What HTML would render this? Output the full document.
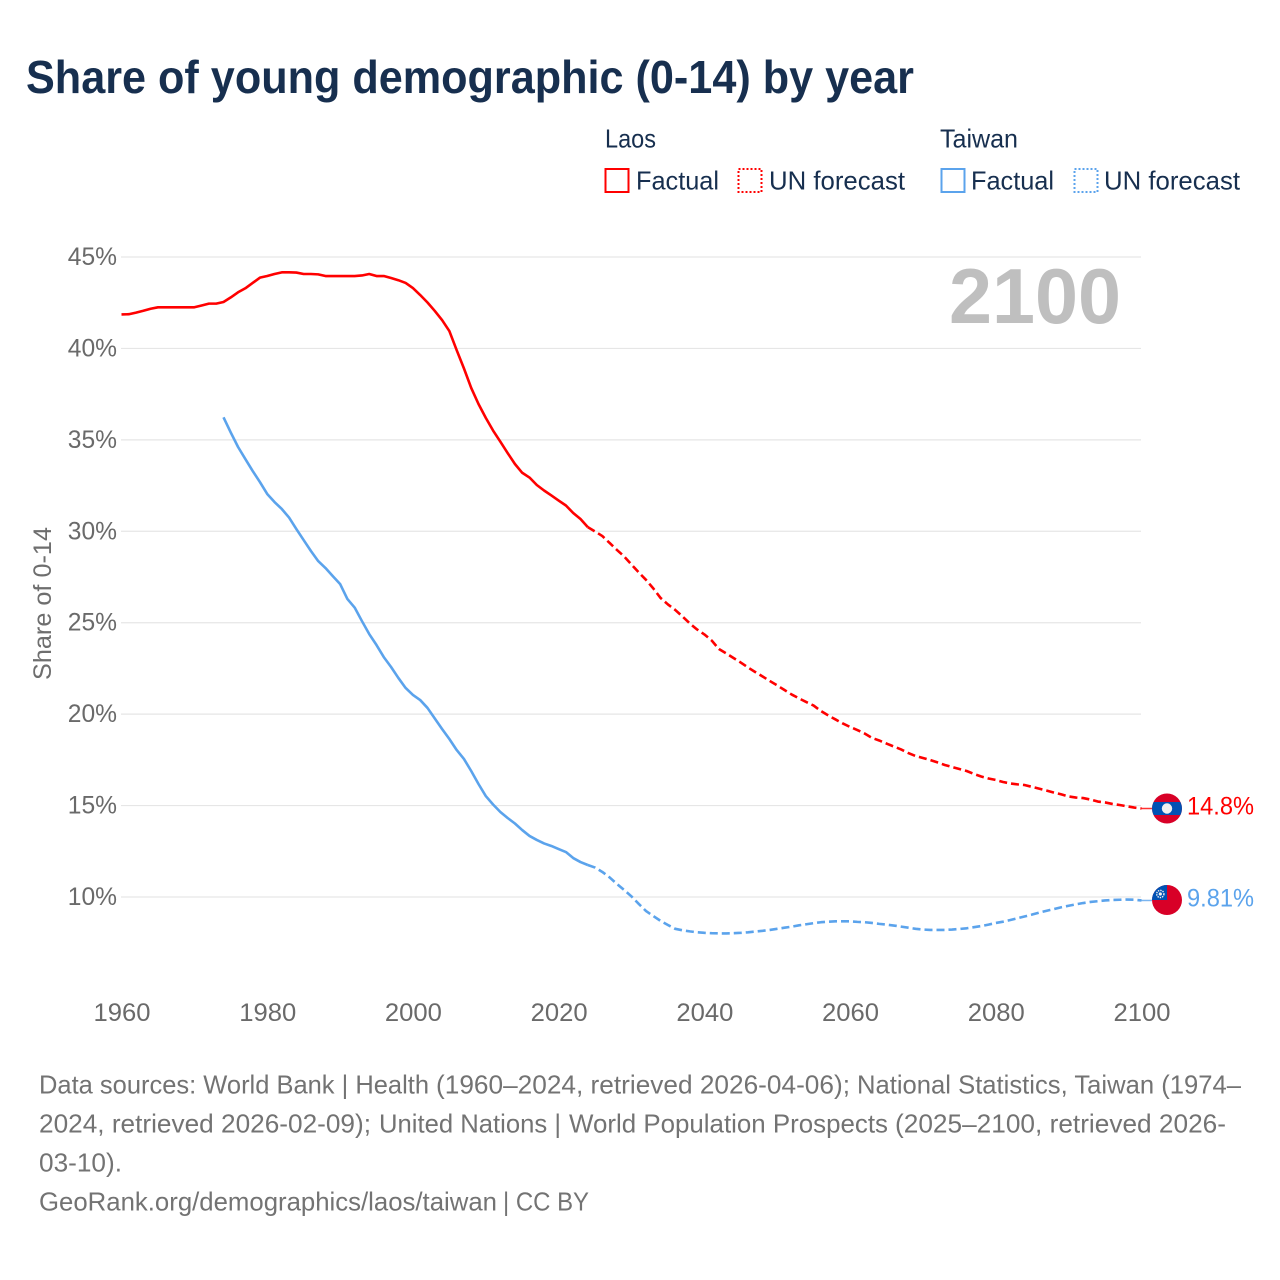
<!DOCTYPE html>
<html lang="en">
<head>
<meta charset="utf-8">
<title>Share of young demographic (0-14) by year</title>
<style>
html,body{margin:0;padding:0;background:#fff;width:1280px;height:1280px;overflow:hidden}
svg{display:block}
text{font-family:"Liberation Sans",Arial,sans-serif}
</style>
</head>
<body>
<svg id="chart" xmlns="http://www.w3.org/2000/svg" width="1280" height="1280" viewBox="0 0 1280 1280">
  <rect x="0" y="0" width="1280" height="1280" fill="#ffffff"/>
  <text x="26" y="93" font-size="46" font-weight="700" fill="#172f4f" textLength="888" lengthAdjust="spacingAndGlyphs">Share of young demographic (0-14) by year</text>

  <g font-size="26" fill="#172f4f">
    <text x="605" y="147.5" textLength="51" lengthAdjust="spacingAndGlyphs">Laos</text>
    <rect x="605.5" y="169" width="23" height="23" fill="none" stroke="#ff0000" stroke-width="2"/>
    <text x="636" y="189.5" textLength="83" lengthAdjust="spacingAndGlyphs">Factual</text>
    <rect x="738.5" y="169" width="23" height="23" fill="none" stroke="#ff0000" stroke-width="2" stroke-dasharray="2 2"/>
    <text x="769" y="189.5" textLength="136" lengthAdjust="spacingAndGlyphs">UN forecast</text>
    <text x="940" y="147.5" textLength="78" lengthAdjust="spacingAndGlyphs">Taiwan</text>
    <rect x="941.5" y="169" width="23" height="23" fill="none" stroke="#5ba3ec" stroke-width="2"/>
    <text x="971" y="189.5" textLength="83" lengthAdjust="spacingAndGlyphs">Factual</text>
    <rect x="1074.5" y="169" width="23" height="23" fill="none" stroke="#5ba3ec" stroke-width="2" stroke-dasharray="2 2"/>
    <text x="1104" y="189.5" textLength="136" lengthAdjust="spacingAndGlyphs">UN forecast</text>
  </g>

  <g id="grid"></g>
  <g id="yticks"></g>
  <g id="xticks"></g>
  <text transform="translate(51,603.5) rotate(-90)" text-anchor="middle" font-size="24.6" fill="#6e6e6e" textLength="153" lengthAdjust="spacingAndGlyphs">Share of 0-14</text>
  <text x="949" y="323" font-size="78" font-weight="700" fill="#bfbfbf" textLength="172" lengthAdjust="spacingAndGlyphs">2100</text>
  <g id="series"></g>
  <g id="endmarks"></g>

  <g font-size="25.6" fill="#737373">
    <text x="39" y="1093.5" textLength="390" lengthAdjust="spacingAndGlyphs">Data sources: World Bank | Health</text>
    <text x="436" y="1093.5" textLength="414" lengthAdjust="spacingAndGlyphs">(1960–2024, retrieved 2026-04-06);</text>
    <text x="857" y="1093.5" textLength="384" lengthAdjust="spacingAndGlyphs">National Statistics, Taiwan (1974–</text>
    <text x="39" y="1132.5" textLength="332" lengthAdjust="spacingAndGlyphs">2024, retrieved 2026-02-09);</text>
    <text x="379" y="1132.5" textLength="182" lengthAdjust="spacingAndGlyphs">United Nations |</text>
    <text x="569" y="1132.5" textLength="319" lengthAdjust="spacingAndGlyphs">World Population Prospects</text>
    <text x="895" y="1132.5" textLength="331" lengthAdjust="spacingAndGlyphs">(2025–2100, retrieved 2026-</text>
    <text x="39" y="1171.5" textLength="83" lengthAdjust="spacingAndGlyphs">03-10).</text>
    <text x="39" y="1210.5" textLength="458" lengthAdjust="spacingAndGlyphs">GeoRank.org/demographics/laos/taiwan</text>
    <text x="503" y="1210.5" textLength="86" lengthAdjust="spacingAndGlyphs">| CC BY</text>
  </g>
</svg>
<script>
const xTickYears = [1960, 1980, 2000, 2020, 2040, 2060, 2080, 2100];
const yTickValues = [10, 15, 20, 25, 30, 35, 40, 45];
const laosStartYear = 1960;
const taiwanStartYear = 1974;
const forecastStartYear = 2025;
const laosFactual = [41.86,41.87,41.96,42.06,42.17,42.25,42.25,42.25,42.25,42.25,42.25,42.35,42.45,42.45,42.54,42.79,43.07,43.29,43.58,43.87,43.96,44.07,44.16,44.16,44.15,44.07,44.07,44.05,43.96,43.96,43.96,43.96,43.96,43.99,44.07,43.96,43.96,43.85,43.73,43.58,43.30,42.92,42.51,42.05,41.55,40.95,39.91,38.91,37.84,36.96,36.20,35.51,34.90,34.28,33.68,33.20,32.94,32.53,32.23,31.96,31.68,31.41,31.00,30.67,30.23];
const laosForecast = [29.99,29.74,29.36,28.98,28.62,28.18,27.75,27.34,26.87,26.35,26.00,25.70,25.34,24.96,24.63,24.36,24.03,23.56,23.32,23.07,22.82,22.55,22.30,22.06,21.81,21.57,21.32,21.07,20.86,20.66,20.47,20.17,19.93,19.71,19.49,19.30,19.13,18.94,18.70,18.56,18.39,18.23,18.07,17.87,17.71,17.60,17.49,17.36,17.22,17.11,17.00,16.89,16.73,16.59,16.48,16.40,16.29,16.21,16.16,16.12,16.02,15.92,15.82,15.71,15.61,15.50,15.44,15.41,15.33,15.22,15.17,15.09,15.03,14.96,14.89,14.84];
const taiwanFactual = [36.23,35.40,34.61,33.95,33.30,32.69,32.04,31.60,31.22,30.75,30.12,29.52,28.92,28.37,27.99,27.55,27.12,26.30,25.83,25.09,24.38,23.78,23.12,22.58,21.98,21.43,21.05,20.77,20.34,19.76,19.19,18.64,18.04,17.55,16.89,16.18,15.52,15.06,14.65,14.32,14.02,13.66,13.34,13.12,12.93,12.79,12.62,12.46,12.13,11.91,11.75];
const taiwanForecast = [11.61,11.37,11.07,10.71,10.38,10.03,9.62,9.23,8.96,8.69,8.47,8.26,8.18,8.12,8.07,8.04,8.02,8.01,8.01,8.02,8.04,8.07,8.11,8.15,8.20,8.26,8.32,8.38,8.45,8.51,8.57,8.62,8.65,8.67,8.67,8.67,8.64,8.62,8.58,8.53,8.49,8.44,8.38,8.32,8.26,8.22,8.20,8.20,8.20,8.22,8.25,8.29,8.35,8.41,8.49,8.58,8.65,8.74,8.84,8.94,9.04,9.15,9.25,9.34,9.44,9.52,9.60,9.67,9.73,9.77,9.81,9.84,9.85,9.86,9.85,9.81];
const laosEndLabel = "14.8%";
const taiwanEndLabel = "9.81%";

const NS = "http://www.w3.org/2000/svg";
const RED = "#ff0000";
const BLUE = "#5ba3ec";
const xScale = year => 121.5 + (year - 1960) * (1020 / 140);
const yScale = value => 897 - (value - 10) * (640 / 35);
const make = (tag, parent) => {
  const el = document.createElementNS(NS, tag);
  parent.appendChild(el);
  return el;
};
const pathFrom = (startYear, values) =>
  values.map((v, i) => (i ? "L" : "M") + xScale(startYear + i).toFixed(2) + " " + yScale(v).toFixed(2)).join(" ");

const grid = document.getElementById("grid");
const yticks = document.getElementById("yticks");
yTickValues.forEach(v => {
  const line = make("line", grid);
  
  
  line.setAttribute("x1", 121);
  line.setAttribute("x2", 1141);
  line.setAttribute("y1", yScale(v));
  line.setAttribute("y2", yScale(v));
  line.setAttribute("stroke", "#e6e6e6");
  line.setAttribute("stroke-width", "1.2");
  const t = make("text", yticks);
  
  
  t.setAttribute("x", 117);
  t.setAttribute("y", yScale(v) + 8);
  t.setAttribute("text-anchor", "end");
  t.setAttribute("font-size", "24.6");
  t.setAttribute("fill", "#6a6a6a");
  t.textContent = v + "%";
});

const xticks = document.getElementById("xticks");
xTickYears.forEach(y => {
  const t = make("text", xticks);
  
  
  t.setAttribute("x", xScale(y) - 28);
  t.setAttribute("y", 1021);
  t.setAttribute("font-size", "24.6");
  t.setAttribute("fill", "#6a6a6a");
  t.setAttribute("textLength", "57");
  t.setAttribute("lengthAdjust", "spacingAndGlyphs");
  t.textContent = y;
});

const series = document.getElementById("series");
const drawLine = (name, startYear, values, color, dash) => {
  const p = make("path", series);
  
  
  p.setAttribute("d", pathFrom(startYear, values));
  p.setAttribute("fill", "none");
  p.setAttribute("stroke", color);
  p.setAttribute("stroke-width", "2.6");
  p.setAttribute("stroke-linejoin", "round");
  if (dash) p.setAttribute("stroke-dasharray", dash);
};
drawLine("laos-factual-line", laosStartYear, laosFactual, RED);
drawLine("laos-forecast-line", forecastStartYear - 1, [laosFactual[laosFactual.length - 1]].concat(laosForecast), RED, "8 4");
drawLine("taiwan-factual-line", taiwanStartYear, taiwanFactual, BLUE);
drawLine("taiwan-forecast-line", forecastStartYear - 1, [taiwanFactual[taiwanFactual.length - 1]].concat(taiwanForecast), BLUE, "8 4");

const endmarks = document.getElementById("endmarks");
const lastYear = forecastStartYear + laosForecast.length - 1;
const flagX = 1167;
const drawConnector = (name, value, color) => {
  const c = make("line", endmarks);
  
  
  c.setAttribute("x1", xScale(lastYear));
  c.setAttribute("x2", flagX - 15);
  c.setAttribute("y1", yScale(value));
  c.setAttribute("y2", yScale(value));
  c.setAttribute("stroke", color);
  c.setAttribute("stroke-width", "1.5");
  c.setAttribute("opacity", "0.8");
};
const drawValue = (name, value, label, color) => {
  const t = make("text", endmarks);
  
  
  t.setAttribute("x", 1187);
  t.setAttribute("y", yScale(value) + 6);
  t.setAttribute("font-size", "24.6");
  t.setAttribute("fill", color);
  t.setAttribute("textLength", "67");
  t.setAttribute("lengthAdjust", "spacingAndGlyphs");
  t.textContent = label;
};
const laosEnd = laosForecast[laosForecast.length - 1];
const taiwanEnd = taiwanForecast[taiwanForecast.length - 1];
drawConnector("laos-end-connector", laosEnd, RED);
drawConnector("taiwan-end-connector", taiwanEnd, BLUE);

// Laos flag marker
const laosY = yScale(laosEnd);
const laosFlag = make("g", endmarks);


const lc = make("circle", laosFlag);


lc.setAttribute("cx", flagX); lc.setAttribute("cy", laosY); lc.setAttribute("r", 15);
lc.setAttribute("fill", "#d80027");
const lb = make("path", laosFlag);


lb.setAttribute("d", "M" + (flagX - 13.4) + " " + (laosY - 6.5) + " H" + (flagX + 13.4) + " A15 15 0 0 1 " + (flagX + 13.4) + " " + (laosY + 6.5) + " H" + (flagX - 13.4) + " A15 15 0 0 1 " + (flagX - 13.4) + " " + (laosY - 6.5) + " Z");
lb.setAttribute("fill", "#0052b4");
const lw = make("circle", laosFlag);


lw.setAttribute("cx", flagX); lw.setAttribute("cy", laosY); lw.setAttribute("r", 5.2);
lw.setAttribute("fill", "#f0f0f0");

// Taiwan flag marker
const twY = yScale(taiwanEnd) - 0.5;
const twFlag = make("g", endmarks);


const tc = make("circle", twFlag);


tc.setAttribute("cx", flagX); tc.setAttribute("cy", twY); tc.setAttribute("r", 15);
tc.setAttribute("fill", "#d80027");
const tb = make("path", twFlag);


tb.setAttribute("d", "M" + flagX + " " + twY + " H" + (flagX - 15) + " A15 15 0 0 1 " + flagX + " " + (twY - 15) + " Z");
tb.setAttribute("fill", "#0052b4");
const ts = make("circle", twFlag);


ts.setAttribute("cx", flagX - 6.7); ts.setAttribute("cy", twY - 6); ts.setAttribute("r", 3.6);
ts.setAttribute("fill", "none");
ts.setAttribute("stroke", "#f0f0f0");
ts.setAttribute("stroke-width", "1.4");
ts.setAttribute("stroke-dasharray", "1.4 1");
const tm = make("circle", twFlag);


tm.setAttribute("cx", flagX - 6.7); tm.setAttribute("cy", twY - 6); tm.setAttribute("r", 1.6);
tm.setAttribute("fill", "#f0f0f0");

drawValue("laos-end-value-label", laosEnd, laosEndLabel, RED);
drawValue("taiwan-end-value-label", taiwanEnd, taiwanEndLabel, BLUE);
</script>
</body>
</html>
